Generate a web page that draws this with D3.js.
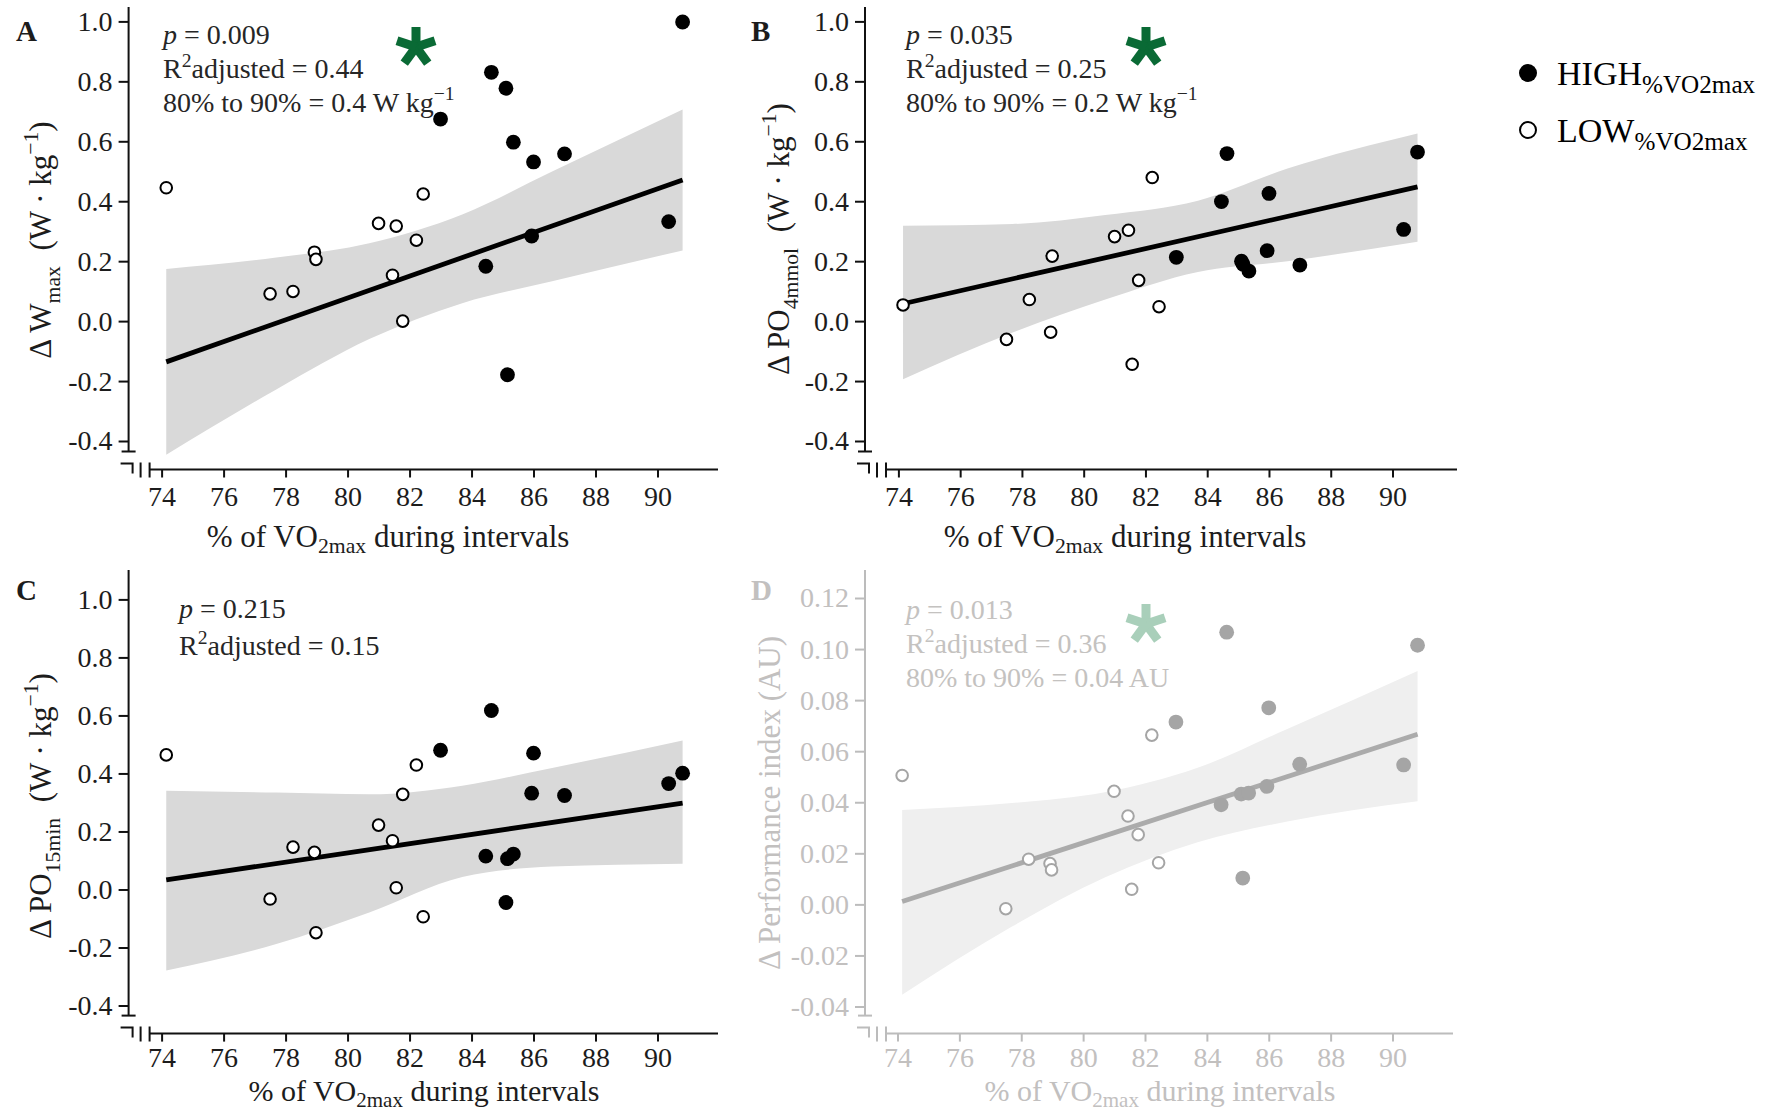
<!DOCTYPE html>
<html>
<head>
<meta charset="utf-8">
<script src="https://cdn.jsdelivr.net/npm/d3@7"></script>
<style>
  html, body { margin: 0; padding: 0; background: #fff; }
  svg { display: block; font-family: "Liberation Serif", "Times New Roman", serif; }
  text { white-space: pre; }
</style>
</head>
<body>
<svg id="chart" width="1765" height="1112"></svg>
<script>
// ---- data -------------------------------------------------------------
// % of VO2max reached during the intervals, one entry per participant
const vo2 = [74.15, 77.5, 78.24, 78.93, 78.98, 81.0, 81.45, 81.57, 81.78, 82.22, 82.44,
             83.0, 84.46, 84.64, 85.11, 85.16, 85.35, 85.94, 86.0, 87.0, 90.36, 90.81];
const group = ["LOW", "LOW", "LOW", "LOW", "LOW", "LOW", "LOW", "LOW", "LOW", "LOW", "LOW",
               "HIGH", "HIGH", "HIGH", "HIGH", "HIGH", "HIGH", "HIGH", "HIGH", "HIGH", "HIGH", "HIGH"];

// change scores per outcome, same participant order as vo2
const dWmax = [0.445, 0.091, 0.099, 0.23, 0.206, 0.326, 0.153, 0.317, 0.0, 0.27, 0.424,
               0.674, 0.183, 0.83, 0.777, -0.179, 0.597, 0.284, 0.531, 0.558, 0.332, 0.998];
const dPO4 = [0.054, -0.061, 0.072, -0.037, 0.217, 0.282, 0.303, -0.144, 0.136, 0.479, 0.048,
              0.213, 0.399, 0.559, 0.20, 0.19, 0.167, 0.235, 0.426, 0.187, 0.306, 0.564];
const dPO15 = [0.464, -0.033, 0.146, 0.128, -0.149, 0.222, 0.168, 0.006, 0.328, 0.429, -0.094,
               0.48, 0.115, 0.617, -0.045, 0.106, 0.122, 0.332, 0.47, 0.324, 0.365, 0.401];
const dPerf = [0.0505, -0.0017, 0.0177, 0.016, 0.0135, 0.0443, 0.0346, 0.0059, 0.0273, 0.0663, 0.0163,
               0.0714, 0.039, 0.1066, 0.0432, 0.0103, 0.0436, 0.0462, 0.077, 0.0549, 0.0546, 0.1015];

// fitted regression line (value at the lowest and highest %VO2max)
const fitX = [74.15, 90.81];
const fitWmax = [-0.136, 0.471];
const fitPO4 = [0.058, 0.448];
const fitPO15 = [0.033, 0.298];
const fitPerf = [0.0011, 0.0666];

// 95% confidence band of the fit
const bandX = [74.15, 77.7, 80.7, 83.7, 86.6, 90.81];
const bandWmaxLo = [-0.446, -0.228, -0.06, 0.06, 0.133, 0.236];
const bandWmaxHi = [0.174, 0.212, 0.26, 0.356, 0.499, 0.706];
const bandPO4Lo = [-0.194, -0.038, 0.072, 0.164, 0.2, 0.265];
const bandPO4Hi = [0.318, 0.324, 0.354, 0.402, 0.509, 0.626];
const bandPO15Lo = [-0.279, -0.188, -0.079, 0.043, 0.079, 0.089];
const bandPO15Hi = [0.34, 0.334, 0.328, 0.358, 0.419, 0.514];
const bandPerfLo = [-0.0354, -0.0087, 0.0105, 0.0243, 0.0325, 0.0404];
const bandPerfHi = [0.037, 0.0397, 0.0439, 0.0535, 0.0687, 0.0914];

// axis ticks
const xTicks = [74, 76, 78, 80, 82, 84, 86, 88, 90];
const yTicksW = [-0.4, -0.2, 0.0, 0.2, 0.4, 0.6, 0.8, 1.0];
const yTicksAU = [-0.04, -0.02, 0.0, 0.02, 0.04, 0.06, 0.08, 0.10, 0.12];

// model statistics printed in each panel
const statP = ["0.009", "0.035", "0.215", "0.013"];
const statR2 = ["0.44", "0.25", "0.15", "0.36"];
const effect80to90 = ["0.4 W kg", "0.2 W kg", null, "0.04 AU"];
const significant = [true, true, false, true];
const panelLetters = ["A", "B", "C", "D"];

// ---- drawing ----------------------------------------------------------
const svg = d3.select("#chart");
const FONT_TICK = 28, FONT_NOTE = 28;

const themes = {
  dark: { text: "#1c1c1c", note: "#262626", axis: "#111", point: "#000", line: "#000",
          band: "#d9d9d9", star: "#0a6a35" },
  faded: { text: "#c2c0bf", note: "#c4c2c0", axis: "#bcbcbc", point: "#a5a5a5", line: "#ababab",
           band: "#efefef", star: "#a9cfba" }
};

// writes text made of runs, some of them sub- or superscript
function rich(sel, x, y, parts, size, fill, extra) {
  const t = sel.append("text").attr("x", x).attr("y", y)
    .attr("font-size", size).attr("fill", fill);
  if (extra) extra(t);
  let shift = 0;
  parts.forEach(p => {
    const fs = (p.sub || p.sup) ? size * (p.scale || 0.7) : size;
    const target = p.sub ? size * (p.off || 0.28) : p.sup ? -size * (p.off || 0.42) : 0;
    t.append("tspan")
      .attr("dy", target - shift)
      .attr("font-size", fs)
      .attr("font-style", p.it ? "italic" : null)
      .text(p.t);
    shift = target;
  });
  return t;
}

// five-armed asterisk used as significance flag
function asterisk(sel, cx, cy, r, w, fill) {
  const g = sel.append("g").attr("transform", `translate(${cx},${cy})`);
  [-90, -18, 54, 126, 198].forEach(a => {
    g.append("rect").attr("x", 0).attr("y", -w / 2).attr("width", r).attr("height", w)
      .attr("transform", `rotate(${a})`).attr("fill", fill);
  });
}

const yTitles = [
  [{ t: "Δ W" }, { t: "max", sub: true }, { t: "  (W · kg" }, { t: "−1", sup: true }, { t: ")" }],
  [{ t: "Δ PO" }, { t: "4mmol", sub: true }, { t: "  (W · kg" }, { t: "−1", sup: true }, { t: ")" }],
  [{ t: "Δ PO" }, { t: "15min", sub: true }, { t: "  (W · kg" }, { t: "−1", sup: true }, { t: ")" }],
  [{ t: "Δ Performance index (AU)" }]
];

const panels = [
  { values: dWmax, fit: fitWmax, lo: bandWmaxLo, hi: bandWmaxHi, ticks: yTicksW, digits: 1,
    theme: "dark", axX: 128.6, axY: 469.5, xr: [161.6, 657.5], yd: [-0.4, 1.0], yr: [441, 21.4],
    top: 7, right: 718, letter: [16, 41], note: [163, 44, 34], star: [416, 47],
    yTitle: [51, 240], xTitle: [388, 547, 31], pad: 9 },
  { values: dPO4, fit: fitPO4, lo: bandPO4Lo, hi: bandPO4Hi, ticks: yTicksW, digits: 1,
    theme: "dark", axX: 865, axY: 469.5, xr: [898.4, 1392.5], yd: [-0.4, 1.0], yr: [441, 21.4],
    top: 7, right: 1457, letter: [751, 41], note: [906, 44, 34], star: [1146, 47],
    yTitle: [789, 239], xTitle: [1125, 547, 31], pad: 9 },
  { values: dPO15, fit: fitPO15, lo: bandPO15Lo, hi: bandPO15Hi, ticks: yTicksW, digits: 1,
    theme: "dark", axX: 128.6, axY: 1033.6, xr: [161.6, 657.5], yd: [-0.4, 1.0], yr: [1005.5, 599.4],
    top: 570, right: 718, letter: [16, 600], note: [179, 618, 37], star: null,
    yTitle: [51, 806], xTitle: [424, 1101, 30], pad: 6 },
  { values: dPerf, fit: fitPerf, lo: bandPerfLo, hi: bandPerfHi, ticks: yTicksAU, digits: 2,
    theme: "faded", axX: 865, axY: 1033.6, xr: [897.5, 1392.5], yd: [-0.04, 0.12], yr: [1006.5, 598],
    top: 570, right: 1453, letter: [751, 600], note: [906, 619, 34], star: [1146, 624],
    yTitle: [780, 803], xTitle: [1160, 1101, 30], pad: 6 }
];

panels.forEach((p, i) => {
  const th = themes[p.theme];
  const g = svg.append("g");
  const x = d3.scaleLinear().domain([74, 90]).range(p.xr);
  const y = d3.scaleLinear().domain(p.yd).range(p.yr);

  // confidence band
  const bandRows = bandX.map((bx, k) => ({ x: bx, lo: p.lo[k], hi: p.hi[k] }));
  g.append("path").datum(bandRows)
    .attr("fill", th.band)
    .attr("d", d3.area().x(d => x(d.x)).y0(d => y(d.lo)).y1(d => y(d.hi)).curve(d3.curveMonotoneX));

  // regression line
  g.append("path").datum(fitX.map((fx, k) => [fx, p.fit[k]]))
    .attr("fill", "none").attr("stroke", th.line).attr("stroke-width", 4.8)
    .attr("d", d3.line().x(d => x(d[0])).y(d => y(d[1])));

  // participants
  const rows = vo2.map((v, k) => ({ x: v, y: p.values[k], grp: group[k] }));
  g.selectAll("circle.pt").data(rows).join("circle")
    .attr("class", "pt")
    .attr("cx", d => x(d.x)).attr("cy", d => y(d.y))
    .attr("r", d => d.grp === "HIGH" ? 7.4 : 5.8)
    .attr("fill", d => d.grp === "HIGH" ? th.point : "#fff")
    .attr("stroke", th.point)
    .attr("stroke-width", d => d.grp === "HIGH" ? 0 : 2);

  // y axis
  const yAxis = d3.axisLeft(y).tickValues(p.ticks).tickSize(10).tickPadding(6)
    .tickFormat(d => d.toFixed(p.digits));
  const ya = g.append("g").attr("transform", `translate(${p.axX},0)`).call(yAxis);
  ya.select(".domain").remove();
  ya.selectAll(".tick line").attr("stroke", th.axis).attr("stroke-width", 2);
  ya.selectAll(".tick text").attr("fill", th.text).attr("font-size", FONT_TICK)
    .attr("font-family", "Liberation Serif, Times New Roman, serif");

  const capY = p.axY - 18;
  g.append("line").attr("x1", p.axX).attr("x2", p.axX).attr("y1", p.top).attr("y2", capY)
    .attr("stroke", th.axis).attr("stroke-width", 2);
  g.append("line").attr("x1", p.axX - 7).attr("x2", p.axX + 7).attr("y1", capY).attr("y2", capY)
    .attr("stroke", th.axis).attr("stroke-width", 2);

  // x axis
  const xAxis = d3.axisBottom(x).tickValues(xTicks).tickSize(8).tickPadding(p.pad)
    .tickFormat(d3.format("d"));
  const xa = g.append("g").attr("transform", `translate(0,${p.axY})`).call(xAxis);
  xa.select(".domain").remove();
  xa.selectAll(".tick line").attr("stroke", th.axis).attr("stroke-width", 2);
  xa.selectAll(".tick text").attr("fill", th.text).attr("font-size", FONT_TICK)
    .attr("font-family", "Liberation Serif, Times New Roman, serif");

  const x0 = p.axX + 21;
  g.append("line").attr("x1", x0).attr("x2", p.right).attr("y1", p.axY).attr("y2", p.axY)
    .attr("stroke", th.axis).attr("stroke-width", 2);

  // axis-break marks at the corner
  const brk = d3.path();
  brk.moveTo(p.axX - 8, p.axY - 6); brk.lineTo(p.axX + 4, p.axY - 6); brk.lineTo(p.axX + 4, p.axY + 4);
  brk.moveTo(p.axX + 12, p.axY - 7); brk.lineTo(p.axX + 12, p.axY + 8);
  brk.moveTo(p.axX + 21, p.axY - 7); brk.lineTo(p.axX + 21, p.axY + 8);
  g.append("path").attr("d", brk.toString()).attr("fill", "none")
    .attr("stroke", th.axis).attr("stroke-width", 2);

  // titles
  rich(g, p.xTitle[0], p.xTitle[1],
    [{ t: "% of VO" }, { t: "2max", sub: true, off: 0.2 }, { t: " during intervals" }],
    p.xTitle[2], th.text, t => t.attr("text-anchor", "middle"));
  rich(g, p.yTitle[0], p.yTitle[1], yTitles[i], 31, th.text,
    t => t.attr("text-anchor", "middle")
          .attr("transform", `rotate(-90,${p.yTitle[0]},${p.yTitle[1]})`));

  g.append("text").attr("x", p.letter[0]).attr("y", p.letter[1])
    .attr("font-size", 29).attr("font-weight", "bold").attr("fill", th.text)
    .text(panelLetters[i]);

  // model statistics
  const [nx, ny, gap] = p.note;
  rich(g, nx, ny, [{ t: "p", it: true }, { t: " = " + statP[i] }], FONT_NOTE, th.note);
  rich(g, nx, ny + gap, [{ t: "R" }, { t: "2", sup: true, off: 0.38 }, { t: "adjusted = " + statR2[i] }],
    FONT_NOTE, th.note);
  if (effect80to90[i]) {
    const parts = [{ t: "80% to 90% = " + effect80to90[i] }];
    if (effect80to90[i].endsWith("kg")) parts.push({ t: "−1", sup: true });
    rich(g, nx, ny + 2 * gap, parts, FONT_NOTE, th.note);
  }
  if (significant[i] && p.star) asterisk(g, p.star[0], p.star[1], 20, 9, th.star);
});

// legend
const legend = svg.append("g");
legend.append("circle").attr("cx", 1528).attr("cy", 73).attr("r", 9).attr("fill", "#000");
legend.append("circle").attr("cx", 1528).attr("cy", 130).attr("r", 8)
  .attr("fill", "#fff").attr("stroke", "#000").attr("stroke-width", 2);
rich(legend, 1557, 85, [{ t: "HIGH" }, { t: "%VO2max", sub: true, scale: 0.74, off: 0.24 }], 34, "#000");
rich(legend, 1557, 142, [{ t: "LOW" }, { t: "%VO2max", sub: true, scale: 0.74, off: 0.24 }], 34, "#000");
</script>
</body>
</html>
